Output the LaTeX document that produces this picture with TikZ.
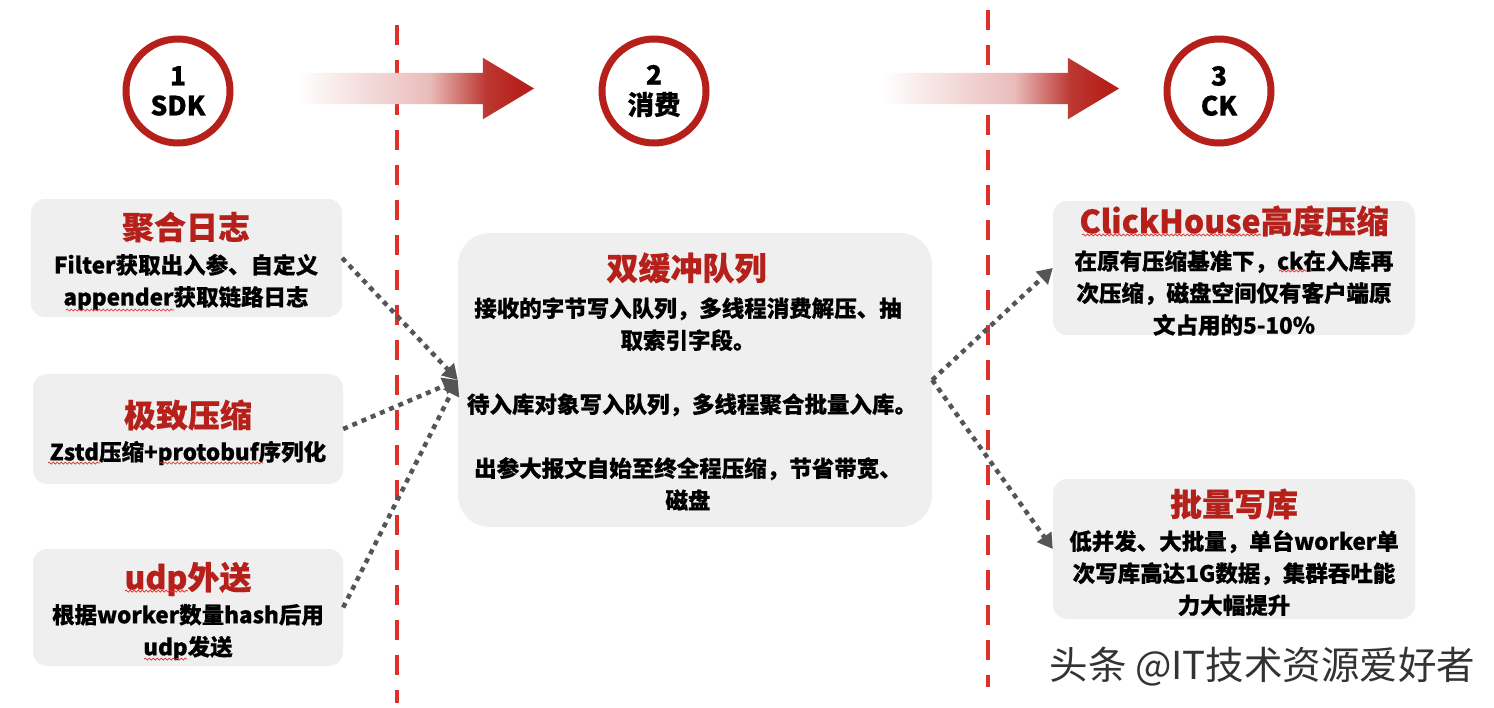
\documentclass[tikz,border=0pt]{standalone}
\usepackage{fontspec}
\usetikzlibrary{arrows.meta,shapes.arrows,decorations.pathmorphing}
\setmainfont{Noto Sans CJK SC}[BoldFeatures={FakeBold=0.5}]

\definecolor{ringred}{HTML}{B5201A}
\definecolor{dashred}{HTML}{E03029}
\definecolor{boxgray}{HTML}{EFEFEF}
\definecolor{dotgray}{HTML}{555555}
\pgfdeclarehorizontalshading{arrowfade}{100bp}{color(0bp)=(white); color(25bp)=(white); color(53bp)=(ringred!30); color(65bp)=(ringred!90); color(72bp)=(ringred); color(100bp)=(ringred)}

\tikzset{
  stepring/.style={circle,draw=ringred,line width=7pt,fill=white,minimum size=104pt,inner sep=0pt,align=center,font=\fontsize{26.5}{30}\selectfont\bfseries},
  fadearrow/.style={single arrow,shading=arrowfade,minimum width=61pt,minimum height=238pt,single arrow head extend=15pt,single arrow tip angle=62,inner xsep=0pt,inner ysep=15.5pt},
  divider/.style={dashred,line width=4.5pt,dash pattern=on 20pt off 15pt},
  greybox/.style={fill=boxgray,rounded corners=14pt,inner sep=0pt},
  boxtitle/.style={ringred,font=\fontsize{32}{36}\selectfont\bfseries},
  boxtext/.style={align=center,font=\fontsize{22.5}{32}\selectfont\bfseries},
  flow/.style={draw=dotgray,line width=4.5pt,dash pattern=on 5pt off 5pt,-{Triangle[length=15pt,width=17pt]}},
  squiggle/.style={dashred,line width=.7pt,decorate,decoration={snake,amplitude=1pt,segment length=4pt}},
}

\begin{document}
\begin{tikzpicture}[x=1pt,y=-1pt]
  \useasboundingbox (0,0) rectangle (1494,707);

  % dividers
  \coordinate (div1top) at (397,25);
  \coordinate (div1end) at (397,703);
  \coordinate (div2top) at (988,10);
  \coordinate (div2end) at (988,687);
  \draw[divider] (div1top) -- (div1end);
  \draw[divider] (div2top) -- (div2end);

  % header
  \node[stepring] (ring1) at (178,91) {1\\SDK};
  \node[stepring] (ring2) at (654,91) {2\\消费};
  \node[stepring] (ring3) at (1219,91) {3\\CK};
  \node[fadearrow] (fade1) at (402,88.5) {};
  \node[fadearrow] (fade2) at (987,88.5) {};

  % left column
  \node[greybox,minimum width=311pt,minimum height=118pt] (box1) at (186.5,258) {};
  \node[boxtitle] (title1) at (186,227) {聚合日志};
  \node[boxtext] (text1) at (186,282) {Filter获取出入参、自定义\\appender获取链路日志};
  \draw[squiggle] (66,310) -- (174,310);

  \node[greybox,minimum width=310pt,minimum height=110pt] (box2) at (188,429) {};
  \node[boxtitle] (title2) at (188,415) {极致压缩};
  \node[boxtext] (text2) at (188,453) {Zstd压缩+protobuf序列化};
  \draw[squiggle] (48,463) -- (100,463);
  \draw[squiggle] (160,463) -- (263,463);

  \node[greybox,minimum width=310pt,minimum height=117pt] (box3) at (188,607.5) {};
  \node[boxtitle] (title3) at (188,579) {udp外送};
  \node[boxtext] (text3) at (188,632) {根据worker数量hash后用\\udp发送};
  \draw[squiggle] (125,591) -- (188,591);
  \draw[squiggle] (144,659) -- (187,659);

  % middle
  \node[greybox,rounded corners=32pt,minimum width=474pt,minimum height=294pt] (mid) at (695,380) {};
  \node[boxtitle] (midtitle) at (686.5,268) {双缓冲队列};
  \node[boxtext] (midtext) at (688,404) {接收的字节写入队列，多线程消费解压、抽\\取索引字段。\\[32pt]\hspace*{8pt}待入库对象写入队列，多线程聚合批量入库。\\[32pt]出参大报文自始至终全程压缩，节省带宽、\\磁盘};

  % right column
  \node[greybox,minimum width=362pt,minimum height=134pt] (box4) at (1234,268) {};
  \node[boxtitle] (title4) at (1234,221) {ClickHouse高度压缩};
  \node[boxtext] (text4) at (1234,293) {在原有压缩基准下，ck在入库再\\次压缩，磁盘空间仅有客户端原\\文占用的5-10\%};
  \draw[squiggle] (1082,235) -- (1261,235);
  \draw[squiggle] (1279,271) -- (1307,271);

  \node[greybox,minimum width=362pt,minimum height=140pt] (box5) at (1234,549) {};
  \node[boxtitle] (title5) at (1234,504) {批量写库};
  \node[boxtext] (text5) at (1234,573) {低并发、大批量，单台worker单\\次写库高达1G数据，集群吞吐能\\力大幅提升};

  % flows
  \draw[flow] (box1.east) -- (mid.west);
  \draw[flow] (box2.east) -- (mid.west);
  \draw[flow] (box3.east) -- (mid.west);
  \draw[flow] (mid.east) -- (box4.west);
  \draw[flow] (mid.east) -- (box5.west);

  \node[font=\fontsize{38.5}{42}\selectfont,black!80] (mark) at (1262.5,667) {头条 @IT技术资源爱好者};
\end{tikzpicture}
\end{document}
